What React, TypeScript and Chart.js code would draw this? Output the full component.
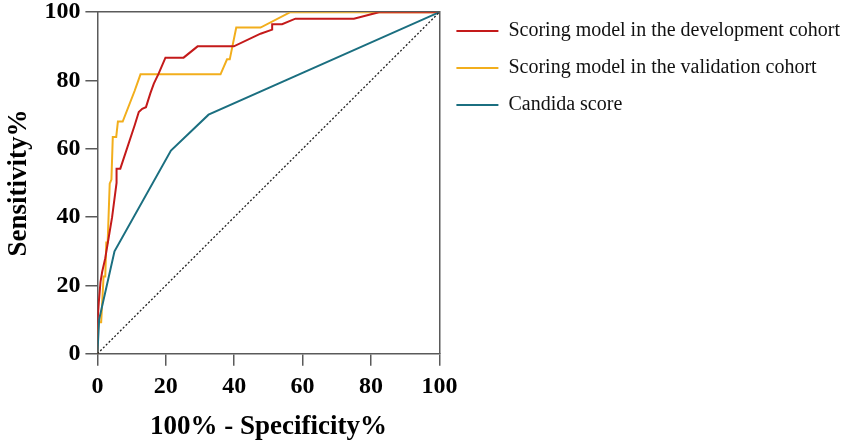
import React, { useEffect, useRef } from "react";
import { Chart, registerables } from "chart.js";

Chart.register(...registerables);

// ROC curves: x = 100% - specificity, y = sensitivity
const devFpr = [0, 0, 0.4, 0.9, 1.4, 2.3, 4.3, 5.6, 5.6, 6.7, 10.9, 12.1, 13.1, 14.2, 15.5, 16.5, 17.9, 19.9, 25.2, 29.3, 39.9, 47.7, 51.1, 51.1, 54, 57.9, 75, 82.3, 100];
const devTpr = [0, 9, 15, 21, 24, 28, 40, 50, 54.2, 54.2, 66.9, 70.8, 71.7, 72.2, 76.3, 79.1, 82, 86.7, 86.7, 90, 90, 93.7, 94.9, 96.5, 96.5, 98.1, 98.1, 100, 100];

const valFpr = [0, 0, 0.4, 1.1, 1.8, 2.3, 2.6, 3, 3.6, 4.1, 4.5, 5.5, 6, 7.4, 10.9, 12.6, 36, 37.9, 38.7, 40.6, 47.7, 56.4, 100];
const valTpr = [0, 5, 9.2, 9.2, 22.6, 22.6, 32.6, 32.6, 49.8, 51, 63.5, 63.5, 68, 68, 77, 81.8, 81.8, 86.2, 86.2, 95.5, 95.5, 100, 100];

const candFpr = [0, 0.5, 5, 21.5, 32.5, 100];
const candTpr = [0, 10, 30, 59.5, 70, 100];

const refLine = [0, 100];

const seriesNames = [
  "Scoring model in the development cohort",
  "Scoring model in the validation cohort",
  "Candida score",
];
const axisTicks = [0, 20, 40, 60, 80, 100];

const toPoints = (xs: number[], ys: number[]) => xs.map((x, i) => ({ x, y: ys[i] }));

const axisGray = "#5a5a5a";
const serif = "'Liberation Serif', 'Times New Roman', serif";

const App: React.FC = () => {
  const canvasRef = useRef<HTMLCanvasElement | null>(null);
  const chartRef = useRef<Chart | null>(null);

  useEffect(() => {
    if (!canvasRef.current) return;
    if (chartRef.current) chartRef.current.destroy();

    const line = (label: string, xs: number[], ys: number[], color: string) => ({
      label,
      data: toPoints(xs, ys),
      borderColor: color,
      backgroundColor: color,
      borderWidth: 2,
      showLine: true,
      pointRadius: 0,
      tension: 0,
    });

    chartRef.current = new Chart(canvasRef.current, {
      type: "scatter",
      data: {
        datasets: [
          {
            label: "reference",
            data: toPoints(refLine, refLine),
            borderColor: "#222",
            borderWidth: 1.3,
            borderDash: [2, 2],
            showLine: true,
            pointRadius: 0,
          },
          line(seriesNames[2], candFpr, candTpr, "#1b6f80"),
          line(seriesNames[0], devFpr, devTpr, "#c41a1a"),
          line(seriesNames[1], valFpr, valTpr, "#f2ae1c"),
        ],
      },
      options: {
        animation: false,
        responsive: true,
        maintainAspectRatio: false,
        layout: {
          autoPadding: false,
          padding: { left: 3, right: 1, top: 0, bottom: 1 },
        },
        plugins: {
          tooltip: { enabled: false },
          legend: {
            position: "right",
            align: "start",
            maxWidth: 420,
            // tiny blank title only pushes the items down a little
            title: {
              display: true,
              text: " ",
              padding: { top: 3, bottom: 0 },
              font: { size: 1, lineHeight: 1 },
            },
            labels: {
              filter: (item) => item.text !== "reference",
              sort: (a, b) => seriesNames.indexOf(a.text) - seriesNames.indexOf(b.text),
              usePointStyle: true,
              pointStyle: "line",
              pointStyleWidth: 42,
              padding: 17,
              color: "#111",
              font: { family: serif, size: 20 },
            },
          },
        },
        scales: {
          x: {
            type: "linear",
            position: "bottom",
            min: 0,
            max: 100,
            afterBuildTicks: (scale) => {
              scale.ticks = axisTicks.map((v) => ({ value: v }));
            },
            grid: {
              drawOnChartArea: false,
              drawTicks: true,
              tickLength: 12,
              color: axisGray,
              lineWidth: 1.5,
            },
            border: { display: true, color: axisGray, width: 1.5 },
            ticks: {
              padding: 7,
              color: "#000",
              font: { family: serif, size: 24, weight: "bold" },
            },
            title: {
              display: true,
              text: "100% - Specificity%",
              color: "#000",
              padding: { top: 2, bottom: 0 },
              font: { family: serif, size: 27, weight: "bold" },
            },
          },
          y: {
            type: "linear",
            position: "left",
            min: 0,
            max: 100,
            afterBuildTicks: (scale) => {
              scale.ticks = axisTicks.map((v) => ({ value: v }));
            },
            grid: {
              drawOnChartArea: false,
              drawTicks: true,
              tickLength: 12,
              color: axisGray,
              lineWidth: 1.5,
            },
            border: { display: true, color: axisGray, width: 1.5 },
            ticks: {
              padding: 5,
              color: "#000",
              font: { family: serif, size: 24, weight: "bold", lineHeight: 0.6 },
            },
            title: {
              display: true,
              text: "Sensitivity%",
              color: "#000",
              padding: { top: 0, bottom: 4 },
              font: { family: serif, size: 27, weight: "bold" },
            },
          },
          // frame lines on top and right
          xTop: {
            type: "linear",
            position: "top",
            min: 0,
            max: 100,
            ticks: { display: false },
            grid: { display: false, drawTicks: false },
            border: { display: true, color: axisGray, width: 1.5 },
            afterFit: (scale) => {
              scale.height = 12;
            },
          },
          yRight: {
            type: "linear",
            position: "right",
            min: 0,
            max: 100,
            ticks: { display: false },
            grid: { display: false, drawTicks: false },
            border: { display: true, color: axisGray, width: 1.5 },
            afterFit: (scale) => {
              scale.width = 0;
            },
          },
        },
      },
    });

    return () => {
      if (chartRef.current) {
        chartRef.current.destroy();
        chartRef.current = null;
      }
    };
  }, []);

  return (
    <div style={{ position: "absolute", left: 0, top: 0, width: 851, height: 444, background: "#fff" }}>
      <canvas ref={canvasRef} />
    </div>
  );
};

export default App;
